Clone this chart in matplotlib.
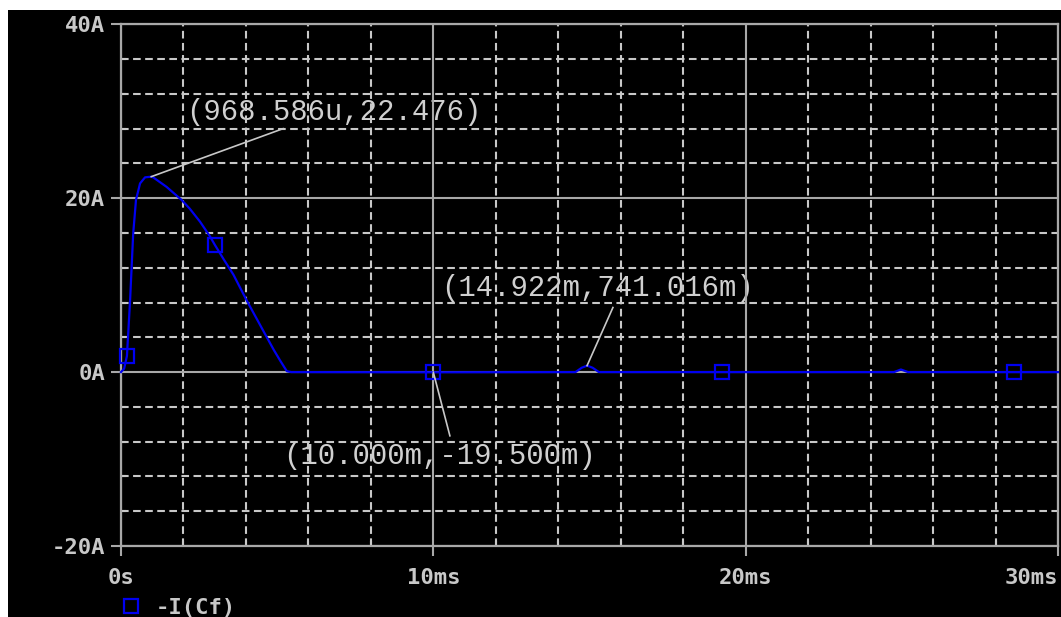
import matplotlib
matplotlib.use("Agg")
import matplotlib.pyplot as plt
from matplotlib.lines import Line2D
from matplotlib.patches import Rectangle
from matplotlib.ticker import MultipleLocator
from matplotlib.font_manager import FontProperties

# -I(Cf) transient, time in ms, current in A
t_ms = [0.0, 0.10, 0.19, 0.29, 0.39, 0.48, 0.61, 0.77, 0.968586, 1.03, 1.46,
        1.94, 2.20, 2.53, 2.85, 3.01, 3.30, 3.60, 4.03, 4.35, 4.67, 4.90, 5.10,
        5.31, 5.45, 10.0, 14.55, 14.75, 14.922, 15.10, 15.30, 19.25, 24.75,
        24.97, 25.20, 28.6, 30.0]
i_amp = [0.0, 0.4, 1.85, 8.2, 15.9, 19.8, 21.7, 22.4, 22.476, 22.4, 21.3,
         19.8, 18.8, 17.3, 15.6, 14.6, 12.9, 11.2, 8.2, 6.1, 4.0, 2.5, 1.3,
         0.1, 0.0, -0.0195, 0.0, 0.5, 0.741016, 0.5, 0.0, 0.0, 0.0,
         0.3, 0.0, 0.0, 0.0]
marker_idx = [2, 15, 25, 31, 35]

# cursor labels: (time ms, current A, text pos ms, text pos A, leader end ms, leader end A)
cursors = [
    (0.968586, 22.476, 2.10, 29.95, 5.19, 28.0),
    (14.922, 0.741016, 10.26, 9.7, 15.75, 7.43),
    (10.0, -0.0195, 5.18, -9.63, 10.53, -7.33),
]

x_ticks = [0, 10, 20, 30]
x_labels = ["0s", "10ms", "20ms", "30ms"]
y_ticks = [-20, 0, 20, 40]
y_labels = ["-20A", "0A", "20A", "40A"]


def eng(v):
    for scale, pre in [(1.0, ""), (1e-3, "m")]:
        if abs(v) >= scale:
            return "%.3f%s" % (v / scale, pre)
    return "%.3f%s" % (v / 1e-6, "u")


plt.rcParams["lines.scale_dashes"] = False
GRID = "#c8c8c8"
AXIS = "#a8a8a8"
TRACE = "#0000f0"

W, H = 1061, 617
fig = plt.figure(figsize=(W / 100, H / 100), dpi=100, facecolor="white")
fig.patches.append(Rectangle((8 / W, 0), 1, (H - 10) / H, transform=fig.transFigure,
                             facecolor="black", edgecolor="none", zorder=-10))

ax = fig.add_axes([121 / W, (H - 546) / H, (1058 - 121) / W, (546 - 24.3) / H])
ax.set_facecolor("black")
ax.set_xlim(0, 30)
ax.set_ylim(-20, 40)

for s in ax.spines.values():
    s.set_color(AXIS)
    s.set_linewidth(1.6)

ax.xaxis.set_minor_locator(MultipleLocator(2))
ax.yaxis.set_minor_locator(MultipleLocator(4))
ax.grid(which="minor", color=GRID, lw=1.5, ls=(0, (5.5, 3.2)), zorder=1)
ax.grid(which="major", color=AXIS, lw=1.5, ls="-", zorder=1)

lab_font = dict(family="DejaVu Sans Mono", weight="bold", size=16)
ax.set_xticks(x_ticks, x_labels)
ax.set_yticks(y_ticks, y_labels)
for lab in ax.get_xticklabels() + ax.get_yticklabels():
    lab.set_fontproperties(FontProperties(**lab_font))
ax.get_xticklabels()[-1].set_ha("right")
ax.tick_params(which="major", direction="out", length=7.5, width=1.5, color=AXIS,
               labelcolor="#c8c8c8")
ax.tick_params(axis="x", which="major", pad=8)
ax.tick_params(axis="y", which="major", pad=4)
ax.tick_params(which="minor", direction="in", length=3.5, width=1.5, color=GRID)

ax.plot(t_ms, i_amp, color=TRACE, lw=1.6, marker="s", markevery=marker_idx,
        ms=10, mfc="none", mec=TRACE, mew=1.6, zorder=3, clip_on=False)

for tc, ic, tx, iy, lx, ly in cursors:
    ax.plot([tc, lx], [ic, ly], color=GRID, lw=1.2, zorder=4)
    ax.text(tx, iy, "(%s,%s)" % (eng(tc * 1e-3), eng(ic)), color="#d0d0d0",
            family="Liberation Mono", fontsize=20.8, ha="left", va="center", zorder=0.5)

handle = Line2D([], [], ls="none", marker="s", ms=10, mfc="none", mec=TRACE, mew=1.6)
leg = fig.legend([handle], ["-I(Cf)"], loc="center left",
                 bbox_to_anchor=(118 / W, (H - 608) / H), frameon=False,
                 handlelength=1.2, handletextpad=0.5, borderpad=0, borderaxespad=0,
                 prop=FontProperties(**lab_font))
for txt in leg.get_texts():
    txt.set_color("#c8c8c8")

fig.savefig("out.png", dpi=100, facecolor=fig.get_facecolor())
